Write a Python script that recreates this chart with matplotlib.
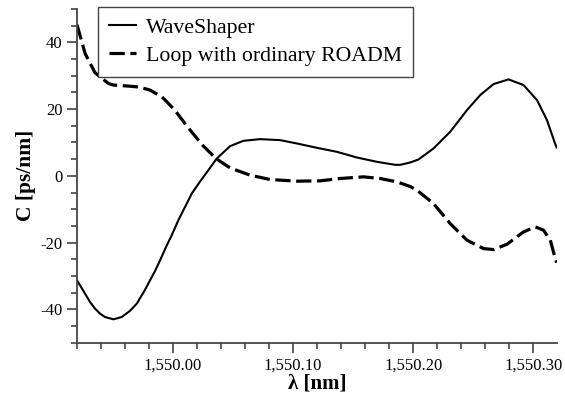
import matplotlib
matplotlib.use("Agg")
import matplotlib.pyplot as plt
from matplotlib.ticker import MultipleLocator, FuncFormatter

# --- data ---
ws_wavelength = [1549.9200, 1549.9267, 1549.9308, 1549.9350, 1549.9392, 1549.9433,
                 1549.9503, 1549.9573, 1549.9640, 1549.9698, 1549.9764, 1549.9850,
                 1549.9892, 1549.9948, 1549.9989, 1550.0044, 1550.0100, 1550.0156,
                 1550.0223, 1550.0294, 1550.0364, 1550.0475, 1550.0586, 1550.0725,
                 1550.0892, 1550.1031, 1550.1198, 1550.1364, 1550.1531, 1550.1698,
                 1550.1850, 1550.1892, 1550.1975, 1550.2044, 1550.2169, 1550.2308,
                 1550.2448, 1550.2558, 1550.2669, 1550.2794, 1550.2919, 1550.3031,
                 1550.3114, 1550.3183, 1550.3195]
ws_dispersion = [-31.3, -35.3, -37.8, -39.8, -41.3, -42.3,
                 -43.0, -42.3, -40.5, -38.3, -34.3, -28.5,
                 -25.3, -20.8, -17.8, -13.3, -9.3, -5.3,
                 -1.8, 1.7, 5.2, 8.9, 10.5, 11.0,
                 10.7, 9.7, 8.4, 7.2, 5.5, 4.2,
                 3.3, 3.3, 4.0, 4.9, 8.2, 13.2,
                 19.7, 24.2, 27.5, 28.9, 27.2, 22.7,
                 16.7, 9.5, 8.5]

loop_wavelength = [1549.9200, 1549.9267, 1549.9350, 1549.9461, 1549.9503, 1549.9628,
                   1549.9720, 1549.9808, 1549.9906, 1549.9948, 1550.0014, 1550.0120,
                   1550.0245, 1550.0357, 1550.0461, 1550.0503, 1550.0642, 1550.0808,
                   1550.1031, 1550.1225, 1550.1392, 1550.1586, 1550.1725, 1550.1864,
                   1550.1975, 1550.2031, 1550.2169, 1550.2308, 1550.2448, 1550.2586,
                   1550.2669, 1550.2781, 1550.2919, 1550.3017, 1550.3086, 1550.3142,
                   1550.3183, 1550.3195]
loop_dispersion = [45.3, 36.7, 30.9, 27.7, 27.2, 26.9,
                   26.6, 25.7, 23.7, 22.2, 19.7, 14.7,
                   9.2, 5.2, 2.7, 2.0, 0.2, -1.1,
                   -1.6, -1.5, -0.8, -0.3, -0.8, -1.8,
                   -3.2, -4.3, -8.3, -14.3, -19.3, -21.8,
                   -22.1, -20.5, -16.8, -15.3, -16.3, -19.3,
                   -24.8, -26.0]

series_labels = ["WaveShaper", "Loop with ordinary ROADM"]
x_label = "λ [nm]"
y_label = "C [ps/nm]"

plt.rcParams["font.family"] = ["Liberation Serif", "DejaVu Serif"]
plt.rcParams["axes.unicode_minus"] = False
plt.rcParams["lines.scale_dashes"] = False

fig = plt.figure(figsize=(5.65, 4.0), dpi=100)
ax = fig.add_axes([0.1363, 0.1433, 0.9853 - 0.1363, 0.9775 - 0.1433])

ax.plot(ws_wavelength, ws_dispersion, color="black", lw=1.5,
        label=series_labels[0], solid_joinstyle="round")
ax.plot(loop_wavelength, loop_dispersion, color="black", lw=2.3,
        dashes=(11, 4), label=series_labels[1], dash_joinstyle="round")

ax.set_xlim(1549.92, 1550.3195)
ax.set_ylim(-50, 50)

ax.xaxis.set_major_locator(MultipleLocator(0.1))
ax.xaxis.set_minor_locator(MultipleLocator(0.02))
ax.xaxis.set_major_formatter(FuncFormatter(lambda v, p: f"{v:,.2f}"))
ax.yaxis.set_major_locator(MultipleLocator(20))
ax.yaxis.set_minor_locator(MultipleLocator(5))
ax.yaxis.set_major_formatter(FuncFormatter(lambda v, p: f"{v:.0f}"))

for s in ["top", "right"]:
    ax.spines[s].set_visible(False)
for s in ["left", "bottom"]:
    ax.spines[s].set_color("#444444")
    ax.spines[s].set_linewidth(1.3)

ax.tick_params(which="major", direction="out", length=7.5, width=1.2,
               color="#444444", labelsize=12, pad=3)
ax.tick_params(which="minor", direction="out", length=4.5, width=1.2,
               color="#444444")

ax.set_xlabel(x_label, fontsize=15, fontweight="bold", labelpad=0)
ax.set_ylabel(y_label, fontsize=15.5, fontweight="bold", labelpad=3)

leg = ax.legend(loc="upper left", bbox_to_anchor=(0.043, 1.007), fontsize=15.7,
                frameon=True, fancybox=False, shadow=False, handlelength=1.25,
                handletextpad=0.45, borderpad=0.5, labelspacing=0.35,
                borderaxespad=0.0)
leg.get_frame().set_edgecolor("#444444")
leg.get_frame().set_linewidth(1.0)
leg.get_frame().set_alpha(1)

fig.savefig("out.png", dpi=100)
